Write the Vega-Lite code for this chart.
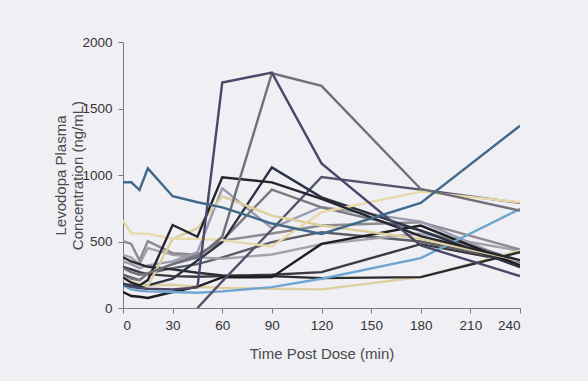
{
  "$schema": "https://vega.github.io/schema/vega-lite/v6.json",
  "autosize": "none",
  "width": 397,
  "height": 266,
  "padding": {"left": 123, "top": 42, "right": 68, "bottom": 73},
  "background": "#efeff4",
  "config": {
    "view": {"stroke": null},
    "font": "Liberation Sans",
    "axis": {
      "grid": false,
      "domainColor": "#7a7a80",
      "tickColor": "#7a7a80",
      "tickSize": 5,
      "labelColor": "#333333",
      "labelFont": "Liberation Sans",
      "labelFontSize": 13.5,
      "titleFont": "Liberation Sans",
      "titleFontSize": 15,
      "titleFontWeight": "normal",
      "titleColor": "#4a4a4a"
    }
  },
  "data": {
    "values": [
      {"s":"S16","t":0,"v":310},{"s":"S16","t":5,"v":290},{"s":"S16","t":10,"v":270},{"s":"S16","t":15,"v":255},{"s":"S16","t":30,"v":240},{"s":"S16","t":45,"v":235},{"s":"S16","t":60,"v":240},{"s":"S16","t":90,"v":250},{"s":"S16","t":120,"v":270},{"s":"S16","t":180,"v":480},{"s":"S16","t":240,"v":340},
      {"s":"S18","t":0,"v":250},{"s":"S18","t":5,"v":230},{"s":"S18","t":10,"v":210},{"s":"S18","t":15,"v":260},{"s":"S18","t":30,"v":300},{"s":"S18","t":45,"v":330},{"s":"S18","t":60,"v":380},{"s":"S18","t":90,"v":495},{"s":"S18","t":120,"v":570},{"s":"S18","t":180,"v":500},{"s":"S18","t":240,"v":350},
      {"s":"S11","t":0,"v":400},{"s":"S11","t":5,"v":380},{"s":"S11","t":10,"v":330},{"s":"S11","t":15,"v":450},{"s":"S11","t":30,"v":400},{"s":"S11","t":45,"v":382},{"s":"S11","t":60,"v":370},{"s":"S11","t":90,"v":402},{"s":"S11","t":120,"v":480},{"s":"S11","t":180,"v":560},{"s":"S11","t":240,"v":430},
      {"s":"S10","t":0,"v":502},{"s":"S10","t":5,"v":482},{"s":"S10","t":10,"v":357},{"s":"S10","t":15,"v":502},{"s":"S10","t":30,"v":412},{"s":"S10","t":45,"v":400},{"s":"S10","t":60,"v":507},{"s":"S10","t":90,"v":560},{"s":"S10","t":120,"v":620},{"s":"S10","t":180,"v":645},{"s":"S10","t":240,"v":440},
      {"s":"S12","t":0,"v":350},{"s":"S12","t":5,"v":330},{"s":"S12","t":10,"v":300},{"s":"S12","t":15,"v":320},{"s":"S12","t":30,"v":350},{"s":"S12","t":45,"v":420},{"s":"S12","t":60,"v":900},{"s":"S12","t":90,"v":600},{"s":"S12","t":120,"v":760},{"s":"S12","t":180,"v":650},{"s":"S12","t":240,"v":330},
      {"s":"S14","t":0,"v":230},{"s":"S14","t":5,"v":220},{"s":"S14","t":10,"v":210},{"s":"S14","t":15,"v":260},{"s":"S14","t":30,"v":330},{"s":"S14","t":45,"v":400},{"s":"S14","t":60,"v":507},{"s":"S14","t":90,"v":890},{"s":"S14","t":120,"v":757},{"s":"S14","t":180,"v":582},{"s":"S14","t":240,"v":357},
      {"s":"S9","t":0,"v":220},{"s":"S9","t":5,"v":200},{"s":"S9","t":10,"v":180},{"s":"S9","t":15,"v":170},{"s":"S9","t":30,"v":175},{"s":"S9","t":45,"v":160},{"s":"S9","t":60,"v":150},{"s":"S9","t":90,"v":145},{"s":"S9","t":120,"v":140},{"s":"S9","t":180,"v":232},{"s":"S9","t":240,"v":432},
      {"s":"S15","t":0,"v":382},{"s":"S15","t":5,"v":350},{"s":"S15","t":10,"v":330},{"s":"S15","t":15,"v":310},{"s":"S15","t":30,"v":290},{"s":"S15","t":45,"v":265},{"s":"S15","t":60,"v":245},{"s":"S15","t":90,"v":240},{"s":"S15","t":120,"v":225},{"s":"S15","t":180,"v":232},{"s":"S15","t":240,"v":420},
      {"s":"S17","t":0,"v":120},{"s":"S17","t":5,"v":90},{"s":"S17","t":10,"v":85},{"s":"S17","t":15,"v":75},{"s":"S17","t":30,"v":120},{"s":"S17","t":45,"v":160},{"s":"S17","t":60,"v":230},{"s":"S17","t":90,"v":232},{"s":"S17","t":120,"v":482},{"s":"S17","t":180,"v":620},{"s":"S17","t":240,"v":320},
      {"s":"S8","t":0,"v":170},{"s":"S8","t":5,"v":140},{"s":"S8","t":10,"v":130},{"s":"S8","t":15,"v":125},{"s":"S8","t":30,"v":120},{"s":"S8","t":45,"v":115},{"s":"S8","t":60,"v":125},{"s":"S8","t":90,"v":157},{"s":"S8","t":120,"v":220},{"s":"S8","t":180,"v":375},{"s":"S8","t":240,"v":745},
      {"s":"S4","t":45,"v":0},{"s":"S4","t":60,"v":200},{"s":"S4","t":90,"v":590},{"s":"S4","t":120,"v":985},{"s":"S4","t":180,"v":890},{"s":"S4","t":240,"v":790},
      {"s":"S13","t":0,"v":182},{"s":"S13","t":5,"v":170},{"s":"S13","t":10,"v":160},{"s":"S13","t":15,"v":170},{"s":"S13","t":30,"v":220},{"s":"S13","t":45,"v":357},{"s":"S13","t":60,"v":495},{"s":"S13","t":90,"v":1057},{"s":"S13","t":120,"v":832},{"s":"S13","t":180,"v":582},{"s":"S13","t":240,"v":307},
      {"s":"S7","t":0,"v":230},{"s":"S7","t":5,"v":200},{"s":"S7","t":10,"v":180},{"s":"S7","t":15,"v":165},{"s":"S7","t":30,"v":520},{"s":"S7","t":45,"v":600},{"s":"S7","t":60,"v":840},{"s":"S7","t":90,"v":695},{"s":"S7","t":120,"v":620},{"s":"S7","t":180,"v":520},{"s":"S7","t":240,"v":357},
      {"s":"S6","t":0,"v":657},{"s":"S6","t":5,"v":562},{"s":"S6","t":10,"v":560},{"s":"S6","t":15,"v":557},{"s":"S6","t":30,"v":520},{"s":"S6","t":45,"v":520},{"s":"S6","t":60,"v":510},{"s":"S6","t":90,"v":462},{"s":"S6","t":120,"v":720},{"s":"S6","t":180,"v":875},{"s":"S6","t":240,"v":795},
      {"s":"S5","t":0,"v":230},{"s":"S5","t":5,"v":190},{"s":"S5","t":10,"v":170},{"s":"S5","t":15,"v":210},{"s":"S5","t":30,"v":624},{"s":"S5","t":45,"v":536},{"s":"S5","t":60,"v":982},{"s":"S5","t":90,"v":945},{"s":"S5","t":120,"v":820},{"s":"S5","t":180,"v":540},{"s":"S5","t":240,"v":360},
      {"s":"S3","t":0,"v":300},{"s":"S3","t":5,"v":270},{"s":"S3","t":10,"v":250},{"s":"S3","t":15,"v":260},{"s":"S3","t":30,"v":330},{"s":"S3","t":45,"v":380},{"s":"S3","t":60,"v":536},{"s":"S3","t":90,"v":1765},{"s":"S3","t":120,"v":1670},{"s":"S3","t":180,"v":895},{"s":"S3","t":240,"v":732},
      {"s":"S2","t":0,"v":175},{"s":"S2","t":5,"v":160},{"s":"S2","t":10,"v":150},{"s":"S2","t":15,"v":145},{"s":"S2","t":30,"v":140},{"s":"S2","t":45,"v":155},{"s":"S2","t":60,"v":1695},{"s":"S2","t":90,"v":1770},{"s":"S2","t":120,"v":1087},{"s":"S2","t":180,"v":470},{"s":"S2","t":240,"v":240},
      {"s":"S1","t":0,"v":945},{"s":"S1","t":5,"v":945},{"s":"S1","t":10,"v":887},{"s":"S1","t":15,"v":1050},{"s":"S1","t":30,"v":840},{"s":"S1","t":45,"v":795},{"s":"S1","t":60,"v":757},{"s":"S1","t":90,"v":635},{"s":"S1","t":120,"v":557},{"s":"S1","t":180,"v":790},{"s":"S1","t":240,"v":1370}
    ]
  },
  "mark": {"type": "line", "strokeWidth": 2.4, "strokeJoin": "miter", "clip": true},
  "encoding": {
    "x": {
      "field": "t", "type": "quantitative",
      "scale": {"domain": [0, 240], "nice": false, "zero": false},
      "axis": {"values": [0, 30, 60, 90, 120, 150, 180, 210, 240], "format": "d", "title": "Time Post Dose (min)", "titlePadding": 15, "labelPadding": 5}
    },
    "y": {
      "field": "v", "type": "quantitative",
      "scale": {"domain": [0, 2000], "nice": false},
      "axis": {"values": [0, 500, 1000, 1500, 2000], "format": "d", "title": ["Levodopa Plasma", "Concentration (ng/mL)"], "titleX": -55, "titleY": 133, "titleAngle": -90, "titleAlign": "center", "titleBaseline": "bottom", "labelPadding": 6}
    },
    "color": {
      "field": "s", "type": "nominal", "legend": null,
      "scale": {
        "domain": ["S1","S2","S3","S4","S5","S6","S7","S8","S9","S10","S11","S12","S13","S14","S15","S16","S17","S18"],
        "range": ["#41698b","#4b4768","#707078","#55536b","#25252d","#e9d9a9","#dccf9c","#6fa5d3","#dfcf9e","#8b8b90","#a3a3aa","#9d9bb0","#2a3245","#7a7a80","#2b2b2e","#3a3a40","#1e1e22","#5e5e66"]
      }
    },
    "order": {"field": "t", "type": "quantitative"}
  }
}
